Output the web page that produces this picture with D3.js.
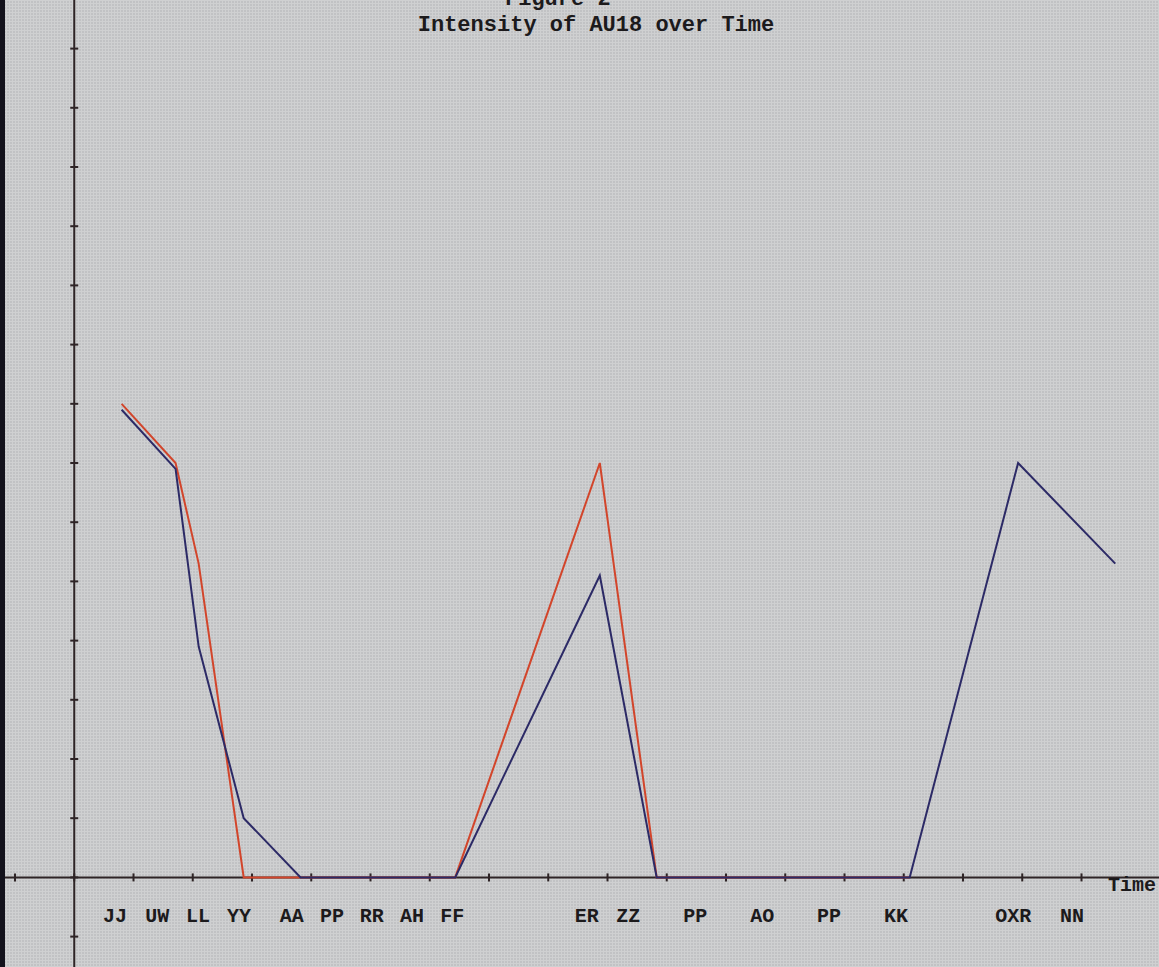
<!DOCTYPE html>
<html>
<head>
<meta charset="utf-8">
<script src="https://cdn.jsdelivr.net/npm/d3@7"></script>
<style>
  html, body { margin: 0; padding: 0; background: #c8c9ca; }
  svg { display: block; }
  text { font-family: "Courier New", "Liberation Mono", monospace; font-weight: bold; fill: #1c1a1c; }
</style>
</head>
<body>
<svg id="chart" width="1159" height="967"></svg>
<script>
// -----------------------------------------------------------------------------

var categories = [
  'JJ', 'UW', 'LL', 'YY', 'AA', 'PP', 'RR', 'AH', 'FF',
  'ER', 'ZZ', 'PP', 'AO', 'PP', 'KK', 'OXR', 'NN'
];

// time of each observation (axis units)
var sampleTimes = [
  0.8, 1.71, 2.1, 2.86, 3.82, 4.5, 5.2, 5.8, 6.43,
  8.87, 9.83, 10.9, 12.0, 13.1, 14.1, 15.93, 17.57
];

// time at which each category name is written under the axis
var labelTimes = [
  0.69, 1.4, 2.09, 2.78, 3.67, 4.35, 5.02, 5.7, 6.38,
  8.65, 9.35, 10.48, 11.61, 12.74, 13.87, 15.85, 16.84
];

var redValues = [
  8.0, 7.0, 5.3, 0, 0, 0, 0, 0, 0,
  7.0, 0, 0, 0, 0, 0, null, null
];

var blueValues = [
  7.9, 6.9, 3.9, 1.0, 0, 0, 0, 0, 0,
  5.1, 0, 0, 0, 0, 0, 7.0, 5.3
];

var xTickValues = d3.range(-1, 18);
var yTickValues = d3.range(-1, 15);

var titleLines = ['Figure 2', 'Intensity of AU18 over Time'];
var xAxisTitle = 'Time';

// -----------------------------------------------------------------------------

var width = 1159;
var height = 967;

var svg = d3.select('#chart');

// - - - - - - - - - - - - - - - - - - - - - - - - - - - - - - - - - - - - - -

var defs = svg.append('defs');
var pattern = defs.append('pattern')
  .attr('id', 'screen')
  .attr('width', 3)
  .attr('height', 3)
  .attr('patternUnits', 'userSpaceOnUse');
pattern.append('rect')
  .attr('width', 3).attr('height', 3)
  .attr('fill', '#c1c2c4');
pattern.append('rect')
  .attr('width', 3).attr('height', 1)
  .attr('fill', '#cfd0d1');
pattern.append('rect')
  .attr('width', 1).attr('height', 3)
  .attr('fill', '#cfd0d1');

svg.append('rect')
  .attr('width', width)
  .attr('height', height)
  .attr('fill', 'url(#screen)');

svg.append('rect')
  .attr('x', 0)
  .attr('y', 0)
  .attr('width', 5)
  .attr('height', height)
  .attr('fill', '#13121c');

// - - - - - - - - - - - - - - - - - - - - - - - - - - - - - - - - - - - - - -

var x = d3.scaleLinear()
  .domain([-1, 17])
  .range([15, 1081.5]);

var y = d3.scaleLinear()
  .domain([0, 14])
  .range([877.4, 48.6]);

var axisColor = '#2e2426';

// axis lines cross the whole screen
svg.append('line')
  .attr('x1', 5).attr('x2', width)
  .attr('y1', y(0)).attr('y2', y(0))
  .attr('stroke', axisColor)
  .attr('stroke-width', 2);

svg.append('line')
  .attr('x1', x(0)).attr('x2', x(0))
  .attr('y1', 0).attr('y2', height)
  .attr('stroke', axisColor)
  .attr('stroke-width', 2);

svg.append('g')
  .selectAll('line')
  .data(xTickValues)
  .join('line')
  .attr('x1', function (d) { return x(d); })
  .attr('x2', function (d) { return x(d); })
  .attr('y1', y(0) - 4)
  .attr('y2', y(0) + 4)
  .attr('stroke', axisColor)
  .attr('stroke-width', 2);

svg.append('g')
  .selectAll('line')
  .data(yTickValues)
  .join('line')
  .attr('x1', x(0) - 4)
  .attr('x2', x(0) + 4)
  .attr('y1', function (d) { return y(d); })
  .attr('y2', function (d) { return y(d); })
  .attr('stroke', axisColor)
  .attr('stroke-width', 2);

// - - - - - - - - - - - - - - - - - - - - - - - - - - - - - - - - - - - - - -

function seriesPoints(values) {
  return values.map(function (v, i) {
    return { t: sampleTimes[i], v: v };
  });
}

var line = d3.line()
  .defined(function (d) { return d.v !== null; })
  .x(function (d) { return x(d.t); })
  .y(function (d) { return y(d.v); });

var series = [
  { name: 'red', color: '#d2452b', values: redValues },
  { name: 'blue', color: '#2c2a66', values: blueValues }
];

svg.append('g')
  .selectAll('path')
  .data(series)
  .join('path')
  .attr('d', function (d) { return line(seriesPoints(d.values)); })
  .attr('fill', 'none')
  .attr('stroke', function (d) { return d.color; })
  .attr('stroke-width', 2)
  .attr('stroke-linejoin', 'miter');

// - - - - - - - - - - - - - - - - - - - - - - - - - - - - - - - - - - - - - -

svg.append('g')
  .selectAll('text')
  .data(categories)
  .join('text')
  .attr('x', function (d, i) { return x(labelTimes[i]); })
  .attr('y', 922)
  .attr('text-anchor', 'middle')
  .style('font-size', '20px')
  .text(function (d) { return d; });

svg.append('text')
  .attr('x', 1156)
  .attr('y', 891)
  .attr('text-anchor', 'end')
  .style('font-size', '20px')
  .text(xAxisTitle);

svg.append('text')
  .attr('x', 505)
  .attr('y', 5)
  .style('font-size', '22px')
  .text(titleLines[0]);

svg.append('text')
  .attr('x', 596)
  .attr('y', 31)
  .attr('text-anchor', 'middle')
  .style('font-size', '22px')
  .text(titleLines[1]);

// -----------------------------------------------------------------------------
</script>
</body>
</html>
